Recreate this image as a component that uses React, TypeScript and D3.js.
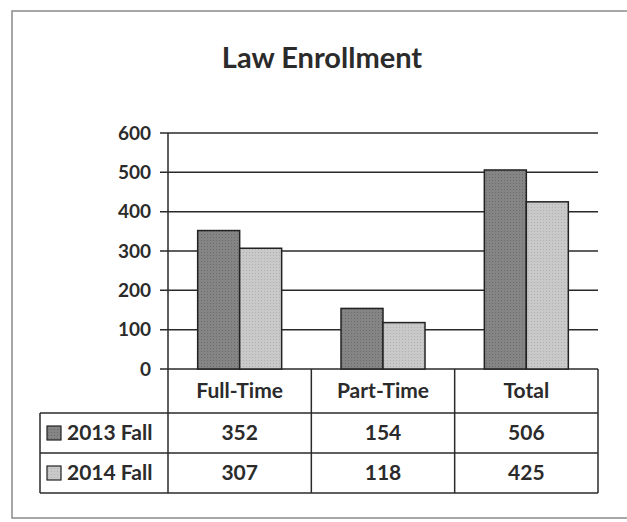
import React from "react"
import * as d3 from "d3"

const categories = ["Full-Time", "Part-Time", "Total"]
const seriesNames = ["2013 Fall", "2014 Fall"]
const fall2013 = [352, 154, 506]
const fall2014 = [307, 118, 425]
const yTicks = [0, 100, 200, 300, 400, 500, 600]

const colors = ["#858585", "#c9c9c9"] // dark / light grey like the print
const font = "Lato, 'Open Sans', sans-serif"

export default function App() {
  const W = 627
  const H = 522
  const left = 168
  const right = 598
  const top = 133
  const bottom = 369
  const rowH = 40
  const headH = 44

  const x = d3.scaleBand().domain(categories).range([left, right])
  const xs = d3.scaleBand().domain(seriesNames).range([0, 84])
  const y = d3.scaleLinear().domain([0, 600]).range([bottom, top])

  const series = [fall2013, fall2014]
  const tableBottom = bottom + headH + rowH * 2
  const line = "#2a2a2a"
  const ink = "#2b2b2b"

  return (
    <svg width={W} height={H} style={{position: "absolute", left: 0, top: 0}} fontFamily={font}>
      <defs>
        {colors.map((c, i) => (
          <pattern key={i} id={"dots" + i} width={3} height={3} patternUnits="userSpaceOnUse">
            <rect width={3} height={3} fill={c} />
            <rect width={1} height={1} fill={i === 0 ? "#6a6a6a" : "#b0b0b0"} />
          </pattern>
        ))}
      </defs>
      <rect x={0} y={0} width={W} height={H} fill="#fff" />
      {/* scanned frame */}
      <rect x={12} y={11} width={W} height={507} fill="none" stroke="#8a8a8a" strokeWidth={1.5} />

      <text x={322} y={68} textAnchor="middle" fontSize={29} fontWeight="bold" fill={ink}>Law Enrollment</text>

      {/* grid + ticks */}
      {yTicks.map(t => (
        <g key={t}>
          <line x1={160} x2={right} y1={y(t)} y2={y(t)} stroke={line} strokeWidth={1.5} />
          <text x={151} y={y(t)} dy="0.35em" textAnchor="end" fontSize={19} fontWeight="bold" fill={ink}>{t}</text>
        </g>
      ))}

      {/* bars */}
      {series.map((vals, si) =>
        categories.map((c, ci) => {
          const bx = (x(c) as number) + (x.bandwidth() - 84) / 2 + (xs(seriesNames[si]) as number)
          return (
            <rect key={c + si} x={bx} y={y(vals[ci])} width={xs.bandwidth()} height={y(0) - y(vals[ci])}
              fill={`url(#dots${si})`} stroke="#222" strokeWidth={1.5} />
          )
        })
      )}

      {/* data table */}
      <line x1={left} x2={left} y1={top} y2={tableBottom} stroke={line} strokeWidth={1.5} />
      {categories.map((c, ci) => (
        <line key={c} x1={(x(c) as number) + x.bandwidth()} x2={(x(c) as number) + x.bandwidth()}
          y1={bottom} y2={tableBottom} stroke={line} strokeWidth={1.5} />
      ))}
      <line x1={40} x2={40} y1={bottom + headH} y2={tableBottom} stroke={line} strokeWidth={1.5} />
      {[0, 1, 2].map(r => (
        <line key={r} x1={40} x2={right} y1={bottom + headH + r * rowH} y2={bottom + headH + r * rowH}
          stroke={line} strokeWidth={1.5} />
      ))}
      {categories.map(c => (
        <text key={c} x={(x(c) as number) + x.bandwidth() / 2} y={bottom + headH / 2} dy="0.35em"
          textAnchor="middle" fontSize={21} fontWeight="bold" fill={ink}>{c}</text>
      ))}
      {series.map((vals, si) => {
        const cy = bottom + headH + si * rowH + rowH / 2
        return (
          <g key={si}>
            <rect x={47} y={cy - 7} width={14} height={14} fill={`url(#dots${si})`} stroke="#222" strokeWidth={1.2} />
            <text x={67} y={cy} dy="0.35em" fontSize={21} fontWeight="bold" fill={ink}>{seriesNames[si]}</text>
            {categories.map((c, ci) => (
              <text key={c} x={(x(c) as number) + x.bandwidth() / 2} y={cy} dy="0.35em"
                textAnchor="middle" fontSize={21} fontWeight="bold" fill={ink}>{vals[ci]}</text>
            ))}
          </g>
        )
      })}
    </svg>
  )
}
